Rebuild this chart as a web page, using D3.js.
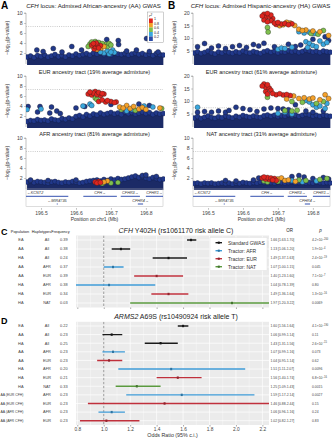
<!DOCTYPE html>
<html><head><meta charset="utf-8">
<script src="https://cdn.jsdelivr.net/npm/d3@7"></script>
<style>body{margin:0;background:#fff}svg{display:block;font-family:"Liberation Sans",Arial,sans-serif}</style>
</head><body><svg id="c" width="334" height="440"></svg>
<script>
// ---------- DATA ----------
const envPos = [196.46,196.47,196.48,196.49,196.50,196.51,196.52,196.53,196.54,196.55,196.56,196.57,196.58,196.59,196.60,196.61,196.62,196.63,196.64,196.65,196.66,196.67,196.68,196.69,196.70,196.71,196.72,196.73,196.74,196.75,196.76,196.77,196.78,196.79,196.80,196.81,196.82,196.83,196.84,196.85];
const mbTicks = [196.5,196.6,196.7,196.8];
const ticks10 = [2,4,6,8,10];
const ticks20 = [5,10,15,20];
const r2Labels = ["1","0.8","0.6","0.4","0.2"];

// background envelopes (max -log10 p of non-highlighted SNP mass)
const envA1 = [1.2,1.4,1.1,1.5,1.3,1.6,1.2,1.4,1.7,1.3,1.5,1.2,1.6,1.4,1.8,1.5,1.7,1.9,1.6,2.0,1.8,2.1,1.7,1.9,1.6,2.0,1.8,1.7,1.9,1.6,1.8,2.0,1.7,1.9,1.6,1.8,1.5,1.9,1.7,1.6];
const envA2 = [0.9,1.1,1.0,1.3,1.1,1.2,1.0,1.4,1.2,1.1,1.5,1.3,1.6,1.4,1.9,2.1,1.8,2.3,2.0,2.4,2.2,2.6,2.3,2.5,2.7,2.4,2.6,2.3,2.8,2.5,2.7,2.4,2.6,2.8,2.5,2.7,2.3,2.6,2.4,2.5];
const envA3 = [1.2,1.4,1.1,1.3,1.2,1.1,1.0,1.2,1.3,1.1,1.0,1.2,1.1,1.3,1.2,1.0,1.1,1.3,1.4,1.5,1.6,1.4,1.7,1.5,1.8,1.6,1.9,1.7,1.8,2.0,2.2,2.4,2.1,2.3,2.0,1.8,2.1,1.9,1.7,1.8];
const envB1 = [4.0,4.5,3.8,4.2,4.8,4.1,3.6,4.4,4.0,4.7,4.2,3.9,4.5,4.1,4.8,4.3,4.0,4.6,4.2,3.8,4.5,4.9,4.3,4.7,4.1,4.6,4.4,5.0,4.5,4.8,4.2,4.6,5.2,4.9,4.4,4.7,4.2,4.8,4.5,4.3];
const envB2 = [3.2,3.8,3.0,3.5,4.0,3.4,3.1,3.7,3.3,4.1,3.6,3.2,3.9,3.5,4.2,3.8,3.5,4.0,3.7,3.4,4.1,4.4,3.9,4.3,3.8,4.2,4.0,4.6,4.1,4.4,3.9,4.3,4.8,4.5,4.0,4.3,3.9,4.4,4.1,3.9];
const envB3 = [0.9,1.0,0.8,1.0,0.9,1.0,0.8,0.9,1.0,0.9,1.0,0.8,1.0,0.9,1.1,1.0,0.9,1.1,1.0,1.2,1.1,1.0,1.1,1.0,1.2,1.1,1.0,1.1,1.2,1.0,1.1,1.2,1.0,1.1,1.0,1.2,1.1,1.0,1.1,1.0];

// highlighted SNPs: [position Mb, -log10 p, r2]
const ptsA1 = [[196.488,2.6,0.05],[196.506,2.3,0.05],[196.535,2.9,0.05],[196.560,2.2,0.05],[196.588,3.3,0.05],[196.616,2.6,0.05],[196.688,4.7,0.1],[196.721,4.5,0.1],[196.722,3.7,0.1],[196.745,2.4,0.1],[196.773,2.6,0.05],[196.802,4.9,0.1],[196.81,2.3,0.05],[196.835,2.2,0.05],
 [196.64,3.8,0.5],[196.645,4.2,0.5],[196.655,4.3,0.45],[196.665,4.1,0.5],[196.675,3.9,0.5],[196.685,3.7,0.45],[196.69,3.3,0.5],[196.695,3.9,0.5],[196.7,3.6,0.55],[196.635,3.3,0.5],
 [196.645,3.4,0.7],[196.672,3.0,0.7],[196.68,3.3,0.75],[196.66,2.7,0.65],
 [196.68,2.0,0.3],[196.69,2.4,0.3],[196.7,2.2,0.35],[196.71,2.1,0.3],[196.705,2.6,0.25],[196.67,2.2,0.3],[196.695,1.8,0.3],
 [196.645,3.6,0.9],[196.65,3.9,0.95],[196.655,3.3,0.85],[196.66,3.7,0.9],[196.665,3.0,0.9],[196.67,3.5,0.85],[196.652,2.8,0.82],[196.658,4.0,0.9]];
const ptsA2 = [[196.463,3.9,0.05],[196.497,3.9,0.05],[196.49,2.8,0.05],[196.53,3.8,0.05],[196.525,2.6,0.05],[196.545,3.0,0.05],[196.555,2.5,0.05],[196.60,3.6,0.05],[196.625,3.9,0.1],[196.78,4.4,0.1],[196.70,4.3,0.1],[196.81,4.1,0.1],
 [196.46,3.3,0.3],[196.50,3.4,0.3],[196.64,4.4,0.3],[196.645,4.1,0.3],[196.62,4.0,0.3],[196.745,3.0,0.3],[196.76,3.3,0.3],[196.795,4.0,0.3],[196.82,3.8,0.3],
 [196.73,3.3,0.5],[196.77,3.1,0.5],[196.845,3.5,0.5],[196.655,5.6,0.5],[196.66,5.3,0.5],
 [196.725,3.8,0.7],[196.735,3.6,0.7],[196.745,4.1,0.65],[196.755,3.5,0.7],[196.765,3.9,0.7],[196.78,3.4,0.65],[196.79,3.7,0.7],[196.80,3.3,0.7],[196.84,3.6,0.7],
 [196.635,6.4,0.9],[196.64,6.8,0.95],[196.645,6.2,0.9],[196.65,6.6,0.9],[196.655,6.9,0.85],[196.66,6.3,0.9],[196.665,6.7,0.9],[196.67,6.1,0.85],[196.675,6.5,0.9],[196.68,6.4,0.88],
 [196.665,4.9,0.9],[196.675,5.2,0.9],[196.685,4.8,0.85],[196.69,5.1,0.9],[196.70,4.9,0.85],[196.71,4.7,0.9],[196.715,4.8,0.85]];
const ptsA3 = [[196.47,1.6,0.05],[196.52,1.5,0.05],[196.6,1.6,0.05],[196.79,2.5,0.05],[196.8,2.6,0.1],[196.83,2.3,0.05],
 [196.675,0.9,0.5],[196.70,1.0,0.5],[196.72,1.1,0.5],[196.69,1.4,0.7],[196.68,1.2,0.7],
 [196.655,1.2,0.9],[196.66,1.0,0.9],[196.665,1.3,0.85],[196.67,1.1,0.9]];
const ptsB1 = [[196.47,6.5,0.05],[196.49,7.8,0.05],[196.51,6.0,0.05],[196.53,6.8,0.05],[196.55,5.8,0.05],[196.57,6.5,0.05],[196.59,7.0,0.05],[196.61,6.2,0.05],[196.63,7.4,0.05],[196.645,6.8,0.05],[196.66,7.9,0.1],[196.69,6.5,0.1],[196.73,7.5,0.1],[196.75,6.6,0.1],[196.765,7.2,0.1],[196.835,10.5,0.1],[196.845,9.0,0.1],[196.80,9.5,0.1],
 [196.76,12.5,0.3],[196.775,12.0,0.3],[196.79,12.3,0.3],[196.805,11.8,0.3],[196.78,8.5,0.3],[196.79,7.8,0.3],[196.80,7.0,0.3],[196.81,6.5,0.3],[196.785,6.2,0.3],[196.82,8.8,0.3],[196.83,7.5,0.25],[196.84,8.2,0.25],[196.70,5.5,0.3],[196.71,6.0,0.3],[196.72,5.8,0.3],[196.74,6.3,0.3],
 [196.67,14.2,0.5],[196.672,12.4,0.5],[196.815,11.5,0.5],[196.795,11.8,0.5],[196.83,13.0,0.5],
 [196.705,14.9,0.7],[196.715,15.3,0.7],[196.725,16.3,0.75],[196.735,16.0,0.7],[196.748,15.0,0.7],[196.76,13.5,0.7],[196.77,13.0,0.75],[196.78,13.2,0.7],[196.80,12.8,0.7],[196.82,12.5,0.7],[196.845,11.0,0.7],
 [196.655,18.8,0.95],[196.66,19.5,0.9],[196.665,18.2,0.9],[196.67,19.8,0.95],[196.675,18.6,0.9],[196.68,19.2,0.9],[196.685,17.8,0.85],[196.66,17.2,0.9],[196.67,16.5,0.9],[196.68,16.9,0.85],[196.69,16.0,0.9],[196.695,15.4,0.85],[196.70,16.2,0.9],[196.71,15.6,0.85],[196.72,15.8,0.85],[196.73,15.3,0.9],[196.74,15.7,0.85]];
const ptsB2 = [[196.47,5.5,0.05],[196.49,5.8,0.05],[196.51,5.5,0.05],[196.53,6.0,0.05],[196.55,5.5,0.05],[196.56,6.2,0.05],[196.58,7.5,0.05],[196.60,7.0,0.05],[196.62,6.5,0.05],[196.64,5.8,0.05],[196.66,6.8,0.1],[196.68,7.2,0.1],[196.70,7.0,0.1],[196.715,6.8,0.1],[196.73,6.5,0.1],[196.75,8.5,0.1],[196.78,6.0,0.1],[196.80,5.5,0.1],[196.83,6.0,0.1],
 [196.78,10.2,0.3],[196.79,9.6,0.3],[196.80,8.5,0.3],[196.81,7.5,0.3],[196.82,8.0,0.3],[196.835,7.0,0.3],[196.84,9.0,0.3],[196.70,5.0,0.3],[196.72,5.5,0.3],[196.74,4.8,0.3],[196.47,7.5,0.3],
 [196.67,11.5,0.5],[196.74,9.8,0.5],[196.77,9.5,0.5],[196.81,9.0,0.5],[196.83,9.8,0.5],[196.72,6.2,0.5],[196.74,6.0,0.5],[196.755,6.3,0.5],
 [196.745,12.0,0.7],[196.76,11.0,0.7],[196.775,11.3,0.75],[196.79,10.8,0.7],[196.80,11.2,0.7],[196.82,10.5,0.7],[196.835,12.5,0.7],[196.845,11.0,0.7],[196.725,10.8,0.7],
 [196.655,16.0,0.95],[196.66,16.8,0.9],[196.665,15.5,0.9],[196.67,16.5,0.95],[196.675,15.2,0.9],[196.68,14.3,0.9],[196.665,13.8,0.85],[196.67,12.8,0.9],[196.685,13.0,0.9],[196.695,12.5,0.85],[196.705,12.9,0.9],[196.715,12.4,0.85],[196.725,12.6,0.9],[196.735,12.2,0.85]];
const ptsB3 = [[196.55,1.5,0.05],[196.58,1.4,0.05],[196.63,1.6,0.05],[196.645,2.0,0.05],[196.74,2.3,0.1],[196.76,2.5,0.1],[196.775,2.2,0.1],[196.80,1.9,0.1],[196.83,2.1,0.1],[196.845,1.8,0.1],
 [196.74,1.5,0.3],[196.77,1.2,0.3],[196.81,1.4,0.3],
 [196.66,1.4,0.5],[196.67,1.2,0.5],[196.70,1.3,0.5],[196.76,1.6,0.5],[196.78,1.5,0.5],[196.82,1.7,0.5],[196.84,1.9,0.5],
 [196.70,1.8,0.7],[196.71,2.0,0.7],[196.72,1.5,0.7],[196.73,1.6,0.7],[196.75,1.3,0.7],
 [196.655,2.0,0.9],[196.66,2.2,0.95],[196.665,1.8,0.9],[196.67,2.1,0.9],[196.675,1.7,0.85],[196.68,2.0,0.9],[196.685,1.6,0.9],[196.69,1.9,0.85],[196.695,1.5,0.85]];

// genes: name, start, end, strand, row
const geneNames = ["KCNT2","MIR4735","CFH","CFHR3","CFHR4","CFHR1"];
const geneStart = [196.40,196.545,196.621,196.728,196.777,196.80];
const geneEnd   = [196.578,196.547,196.717,196.783,196.792,196.87];
const geneStrand = ["-","-","+","+","+","+"];
const geneRow = [0,1,0,0,1,0];

// forest plot C
const cPop = ["EA","AA","HA","AA","AA","HA","HA","HA"];
const cHap = ["All","All","All","AFR","EUR","AFR","EUR","NAT"];
const cFreq = ["0.39","0.38","0.24","0.37","0.39","0.38","0.34","0.03"];
const cOR = [1.66,1.13,1.49,1.07,1.40,1.04,1.49,1.97];
const cLo = [1.63,1.06,1.37,1.00,1.23,0.78,1.36,1.20];
const cHi = [1.70,1.20,1.63,1.15,1.60,1.39,1.64,3.22];
const cP = ["4.2e-200","1.9e-4","2.4e-19","0.045","7.1e-7","0.80","1.3e-16","0.0069"];
const cType = ["GWAS","GWAS","GWAS","AFR","EUR","AFR","EUR","NAT"];
// forest plot D
const dPop = ["EA","AA","HA","AA","AA","HA","HA","HA","AA (EUR CFH)","AA (EUR CFH)","AA (AFR CFH)","AA (AFR CFH)"];
const dHap = ["All","All","All","AFR","EUR","AFR","EUR","NAT","AFR","EUR","AFR","EUR"];
const dFreq = ["0.22","0.23","0.25","0.23","0.23","0.20","0.21","0.33","0.23","0.23","0.23","0.23"];
const dOR = [1.60,1.06,1.43,1.07,1.04,1.51,1.56,1.25,1.59,1.46,1.06,1.02];
const dLo = [1.56,0.99,1.31,0.99,0.95,1.11,1.40,1.09,1.17,0.88,0.96,0.82];
const dHi = [1.64,1.14,1.56,1.16,1.14,2.07,1.74,1.43,2.14,2.44,1.16,1.27];
const dP = ["4.1e-190","0.11","2.6e-15","0.073","0.62","0.0096","6.8e-16","0.0015","0.0027","0.15","0.24","0.83"];
const dType = ["GWAS","GWAS","GWAS","AFR","EUR","AFR","EUR","NAT","AFR","EUR","AFR","EUR"];
const orTicks = [0.8,1.0,1.2,1.4,1.6,1.8,2.0,2.2];
const legendTypes = ["GWAS","AFR","EUR","NAT"];
const legendLabels = ["Standard GWAS","Tractor: AFR","Tractor: EUR","Tractor: NAT"];

// ---------- STYLE ----------
const svg = d3.select("#c");
svg.append("rect").attr("width",334).attr("height",440).attr("fill","#fff");
const typeCol = {GWAS:"#1a1a1a",AFR:"#3d9ad6",EUR:"#c0303c",NAT:"#5a9a3e"};
const r2Cols = ["#e0251f","#f4a12a","#7fc04e","#3aa7de","#2b4ba6"];
function r2col(r){ return r>=0.8?r2Cols[0]:r>=0.6?r2Cols[1]:r>=0.4?r2Cols[2]:r>=0.2?r2Cols[3]:r2Cols[4]; }
const navy = "#21388a";
const mbDomain = [196.457,196.849];
let clipId = 0;

function yLabel(x, y){
  const t = svg.append("text").attr("transform",`translate(${x},${y}) rotate(-90)`)
    .attr("text-anchor","middle").attr("font-size",5.2).attr("fill","#333");
  t.append("tspan").text("\u2212log");
  t.append("tspan").attr("font-size",3.6).attr("dy",1.2).text("10");
  t.append("tspan").attr("dy",-1.2).text("(p-value)");
}

function locus(x0,x1,yTop,yBot,maxV,ticks,env,pts,labX){
  const x = d3.scaleLinear().domain(mbDomain).range([x0,x1]);
  const y = d3.scaleLinear().domain([0,maxV]).range([yBot,yTop]);
  const id = "clip"+(clipId++);
  svg.append("clipPath").attr("id",id).append("rect").attr("x",x0).attr("y",yTop-4).attr("width",x1-x0+2).attr("height",yBot-yTop+6);
  const g = svg.append("g");
  const ax = g.append("g").attr("transform",`translate(${x0},0)`)
    .call(d3.axisLeft(y).tickValues(ticks).tickSize(1.8).tickPadding(1.5));
  ax.select(".domain").attr("stroke","#999").attr("stroke-width",0.6).attr("d",`M-1.8,${y(maxV)}H0V${yBot+1}`);
  ax.selectAll(".tick line").attr("stroke","#999").attr("stroke-width",0.6);
  ax.selectAll("text").attr("font-size",5.2).attr("fill","#444").attr("font-family","Liberation Sans, Arial, sans-serif");
  const p = g.append("g").attr("clip-path",`url(#${id})`);
  p.append("line").attr("x1",x0).attr("x2",x1).attr("y1",y(7.3)).attr("y2",y(7.3))
    .attr("stroke","#aaa").attr("stroke-width",0.6).attr("stroke-dasharray","1,1.2");
  const area = d3.area().x((d,i)=>x(envPos[i])).y0(y(0)+2).y1(d=>y(d)).curve(d3.curveMonotoneX);
  p.append("path").datum(env).attr("d",area).attr("fill","#1b2a66");
  p.selectAll("circle.env").data(env).join("circle").attr("class","env")
    .attr("cx",(d,i)=>x(envPos[i])).attr("cy",d=>y(d)).attr("r",2.5)
    .attr("fill",navy).attr("stroke","#10183e").attr("stroke-width",0.4);
  const sorted = pts.slice().sort((a,b)=>a[2]-b[2]);
  p.selectAll("circle.pt").data(sorted).join("circle").attr("class","pt")
    .attr("cx",d=>x(d[0])).attr("cy",d=>y(d[1])).attr("r",2.5)
    .attr("fill",d=>d[2]<0.2?navy:r2col(d[2])).attr("stroke","#1a1a1a").attr("stroke-width",0.35);
  yLabel(labX,(yTop+yBot)/2);
  return x;
}

function subtitle(cx,y,txt){
  svg.append("text").attr("x",cx).attr("y",y).attr("text-anchor","middle").attr("font-size",5.6).attr("fill","#222").text(txt);
}
function mainTitle(cx,y,rest){
  const t = svg.append("text").attr("x",cx).attr("y",y).attr("text-anchor","middle").attr("font-size",6.1).attr("fill","#222");
  t.append("tspan").attr("font-style","italic").text("CFH");
  t.append("tspan").text(rest);
}

function geneTrack(x0,x1){
  const x = d3.scaleLinear().domain(mbDomain).range([x0,x1]);
  const id = "clip"+(clipId++);
  svg.append("clipPath").attr("id",id).append("rect").attr("x",x0).attr("y",186).attr("width",x1-x0).attr("height",24);
  svg.append("rect").attr("x",x0).attr("y",189).attr("width",x1-x0).attr("height",17.5).attr("fill","none").attr("stroke","#bbb").attr("stroke-width",0.5);
  const g = svg.append("g").attr("clip-path",`url(#${id})`);
  const rowY = [196.3,204];
  geneNames.forEach((n,i)=>{
    const a = x(geneStart[i]), b = x(geneEnd[i]);
    g.append("rect").attr("x",a).attr("y",rowY[geneRow[i]]-0.5).attr("width",Math.max(1,b-a)).attr("height",1).attr("fill","#3552b0");
    const va = Math.max(a,x0+1), vb = Math.min(b,x1);
    const lab = geneStrand[i]==="-" ? "\u2190"+n : n+"\u2192";
    const left = geneStart[i] < mbDomain[0];
    g.append("text").attr("x",left?va:(va+vb)/2).attr("y",rowY[geneRow[i]]-2)
      .attr("text-anchor",left?"start":"middle").attr("font-size",3.8).attr("font-style","italic").attr("fill","#333").text(lab);
  });
  const ax = svg.append("g").attr("transform","translate(0,208)")
    .call(d3.axisBottom(x).tickValues(mbTicks).tickSize(1.8).tickPadding(1.5).tickFormat(d3.format(".1f")));
  ax.select(".domain").remove();
  ax.selectAll(".tick line").attr("stroke","#999").attr("stroke-width",0.6);
  ax.selectAll("text").attr("font-size",5).attr("fill","#444").attr("font-family","Liberation Sans, Arial, sans-serif");
  svg.append("text").attr("x",(x0+x1)/2).attr("y",221).attr("text-anchor","middle").attr("font-size",5).attr("fill","#333").text("Position on chr1 (Mb)");
}

// ---------- PANELS A, B ----------
const AX0 = 26, AX1 = 163, BX0 = 193, BX1 = 330;
svg.append("text").attr("x",1).attr("y",8.5).attr("font-size",10).attr("font-weight","bold").text("A");
svg.append("text").attr("x",168).attr("y",8.5).attr("font-size",10).attr("font-weight","bold").text("B");
mainTitle((AX0+AX1)/2-1,7.5," locus: Admixed African-ancestry (AA) GWAS");
mainTitle((BX0+BX1)/2-1,7.5," locus: Admixed Hispanic-ancestry (HA) GWAS");
locus(AX0,AX1,13,63,10,ticks10,envA1,ptsA1,9);
subtitle((AX0+AX1)/2,73.5,"EUR ancestry tract (19% average admixture)");
locus(AX0,AX1,76,126,10,ticks10,envA2,ptsA2,9);
subtitle((AX0+AX1)/2,135.5,"AFR ancestry tract (81% average admixture)");
locus(AX0,AX1,138,188,10,ticks10,envA3,ptsA3,9);
geneTrack(AX0,AX1);

locus(BX0,BX1,13,63,20,ticks20,envB1,ptsB1,176);
subtitle((BX0+BX1)/2,73.5,"EUR ancestry tract (61% average admixture)");
locus(BX0,BX1,76,126,20,ticks20,envB2,ptsB2,176);
subtitle((BX0+BX1)/2,135.5,"NAT ancestry tract (31% average admixture)");
locus(BX0,BX1,138,188,10,ticks10,envB3,ptsB3,176);
geneTrack(BX0,BX1);

// r2 legend
const lg = svg.append("g");
lg.append("rect").attr("x",147.5).attr("y",12).attr("width",16).attr("height",30.5).attr("fill","#fff").attr("stroke","#888").attr("stroke-width",0.4);
const lt = lg.append("text").attr("x",149).attr("y",17).attr("font-size",4.2).attr("font-style","italic").attr("fill","#222");
lt.append("tspan").text("r");
lt.append("tspan").attr("dy",-1.4).attr("font-size",3).text("2");
r2Cols.forEach((c,i)=>{
  lg.append("rect").attr("x",149).attr("y",18.5+i*4.5).attr("width",3.8).attr("height",4.5).attr("fill",c);
  lg.append("text").attr("x",154).attr("y",20+i*4.5).attr("font-size",3.6).attr("fill","#222").text(r2Labels[i]);
});

// ---------- FOREST PLOTS ----------
const ox = d3.scaleLinear().domain([0.79,2.25]).range([76,269]);
function fmtP(t,s){
  if(s.indexOf("e")>=0){
    const parts = s.split("e");
    t.append("tspan").text(parts[0]+"\u00d710");
    t.append("tspan").attr("dy",-1.4).attr("font-size",2.6).text(parts[1].replace("-","\u2212"));
  } else t.text(s);
}
function fit(t,maxW){
  const w = t.node().getComputedTextLength();
  if(w>maxW) t.attr("textLength",maxW).attr("lengthAdjust","spacingAndGlyphs");
}
function forest(pop,hap,freq,or,lo,hi,pv,type,y0,y1,ytop,ybot,showAxis){
  const n = pop.length;
  const y = d3.scalePoint().domain(d3.range(n)).range([y0,y1]);
  const id = "clip"+(clipId++);
  svg.append("clipPath").attr("id",id).append("rect").attr("x",76).attr("y",ytop).attr("width",193).attr("height",ybot-ytop);
  svg.append("rect").attr("x",76).attr("y",ytop).attr("width",193).attr("height",ybot-ytop).attr("fill","#ebebeb");
  const g = svg.append("g").attr("clip-path",`url(#${id})`);
  orTicks.forEach(t=>{
    g.append("line").attr("x1",ox(t)).attr("x2",ox(t)).attr("y1",ytop).attr("y2",ybot).attr("stroke","#fff").attr("stroke-width",0.7);
    g.append("line").attr("x1",ox(t+0.1)).attr("x2",ox(t+0.1)).attr("y1",ytop).attr("y2",ybot).attr("stroke","#fff").attr("stroke-width",0.35);
  });
  d3.range(n).forEach(i=>{
    g.append("line").attr("x1",76).attr("x2",269).attr("y1",y(i)).attr("y2",y(i)).attr("stroke","#fff").attr("stroke-width",0.7);
  });
  g.append("line").attr("x1",ox(1)).attr("x2",ox(1)).attr("y1",ytop).attr("y2",ybot).attr("stroke","#999").attr("stroke-width",1).attr("stroke-dasharray","2.5,1.5");
  d3.range(n).forEach(i=>{
    const c = typeCol[type[i]];
    g.append("line").attr("x1",ox(lo[i])).attr("x2",ox(hi[i])).attr("y1",y(i)).attr("y2",y(i)).attr("stroke",c).attr("stroke-width",1.4);
    g.append("rect").attr("x",ox(or[i])-1).attr("y",y(i)-1.2).attr("width",2).attr("height",2.4).attr("fill",d3.color(c).darker(0.8));
  });
  d3.range(n).forEach(i=>{
    fit(svg.append("text").attr("x",23.5).attr("y",y(i)+1.4).attr("text-anchor","end").attr("font-size",3.9).attr("fill","#444").text(pop[i]),23);
    svg.append("text").attr("x",47).attr("y",y(i)+1.4).attr("text-anchor","middle").attr("font-size",3.9).attr("fill","#444").text(hap[i]);
    svg.append("text").attr("x",60).attr("y",y(i)+1.4).attr("font-size",3.9).attr("fill","#444").text(freq[i]);
    svg.append("text").attr("x",270.5).attr("y",y(i)+1.3).attr("font-size",3.4).attr("fill","#444").text(`${or[i].toFixed(2)} [${lo[i].toFixed(2)}-${hi[i].toFixed(2)}]`);
    fmtP(svg.append("text").attr("x",312).attr("y",y(i)+1.3).attr("font-size",3.4).attr("fill","#444"),pv[i]);
  });
  const ax = svg.append("g").attr("transform",`translate(0,${ybot})`)
    .call(d3.axisBottom(ox).tickValues(orTicks).tickSize(1.5).tickPadding(1.2).tickFormat(showAxis?d3.format(".1f"):""));
  ax.select(".domain").remove();
  ax.selectAll(".tick line").attr("stroke","#555").attr("stroke-width",0.5);
  ax.selectAll("text").attr("font-size",4.8).attr("fill","#444").attr("font-family","Liberation Sans, Arial, sans-serif");
}
function ftitle(y,ital,rest){
  const t = svg.append("text").attr("x",176).attr("y",y).attr("text-anchor","middle").attr("font-size",7).attr("fill","#222");
  t.append("tspan").attr("font-style","italic").text(ital);
  t.append("tspan").text(rest);
}

svg.append("text").attr("x",1).attr("y",235).attr("font-size",9).attr("font-weight","bold").text("C");
[["Population",20],["Haplotypes",41.5],["Frequency",60.5]].forEach(h=>{
  svg.append("text").attr("x",h[1]).attr("y",232.5).attr("text-anchor","middle").attr("font-size",3.9).attr("fill","#222").text(h[0]);
});
svg.append("text").attr("x",289.5).attr("y",231.5).attr("text-anchor","middle").attr("font-size",4.5).attr("fill","#222").text("OR");
svg.append("text").attr("x",320.5).attr("y",231.5).attr("text-anchor","middle").attr("font-size",4.5).attr("font-style","italic").attr("fill","#222").text("p");
ftitle(232.5,"CFH"," Y402H (rs1061170 risk allele C)");
forest(cPop,cHap,cFreq,cOR,cLo,cHi,cP,cType,240,303,235.5,307.5,false);

// legend
const fl = svg.append("g");
fl.append("rect").attr("x",210).attr("y",237.5).attr("width",57).attr("height",33).attr("fill","#fff").attr("stroke","#ddd").attr("stroke-width",0.4);
legendTypes.forEach((t,i)=>{
  const yy = 242.7+i*8;
  fl.append("line").attr("x1",215.5).attr("x2",222).attr("y1",yy).attr("y2",yy).attr("stroke",typeCol[t]).attr("stroke-width",1.4);
  fl.append("rect").attr("x",217.8).attr("y",yy-1.1).attr("width",2).attr("height",2.2).attr("fill",d3.color(typeCol[t]).darker(0.8));
  fl.append("text").attr("x",228).attr("y",yy+1.8).attr("font-size",5).attr("fill","#333").text(legendLabels[i]);
});

svg.append("text").attr("x",1).attr("y",324).attr("font-size",9).attr("font-weight","bold").text("D");
ftitle(319,"ARMS2"," A69S (rs10490924 risk allele T)");
forest(dPop,dHap,dFreq,dOR,dLo,dHi,dP,dType,326,420.7,321.8,425,true);
svg.append("text").attr("x",172.5).attr("y",437).attr("text-anchor","middle").attr("font-size",5.3).attr("fill","#333").text("Odds Ratio (95% c.i.)");
</script></body></html>
